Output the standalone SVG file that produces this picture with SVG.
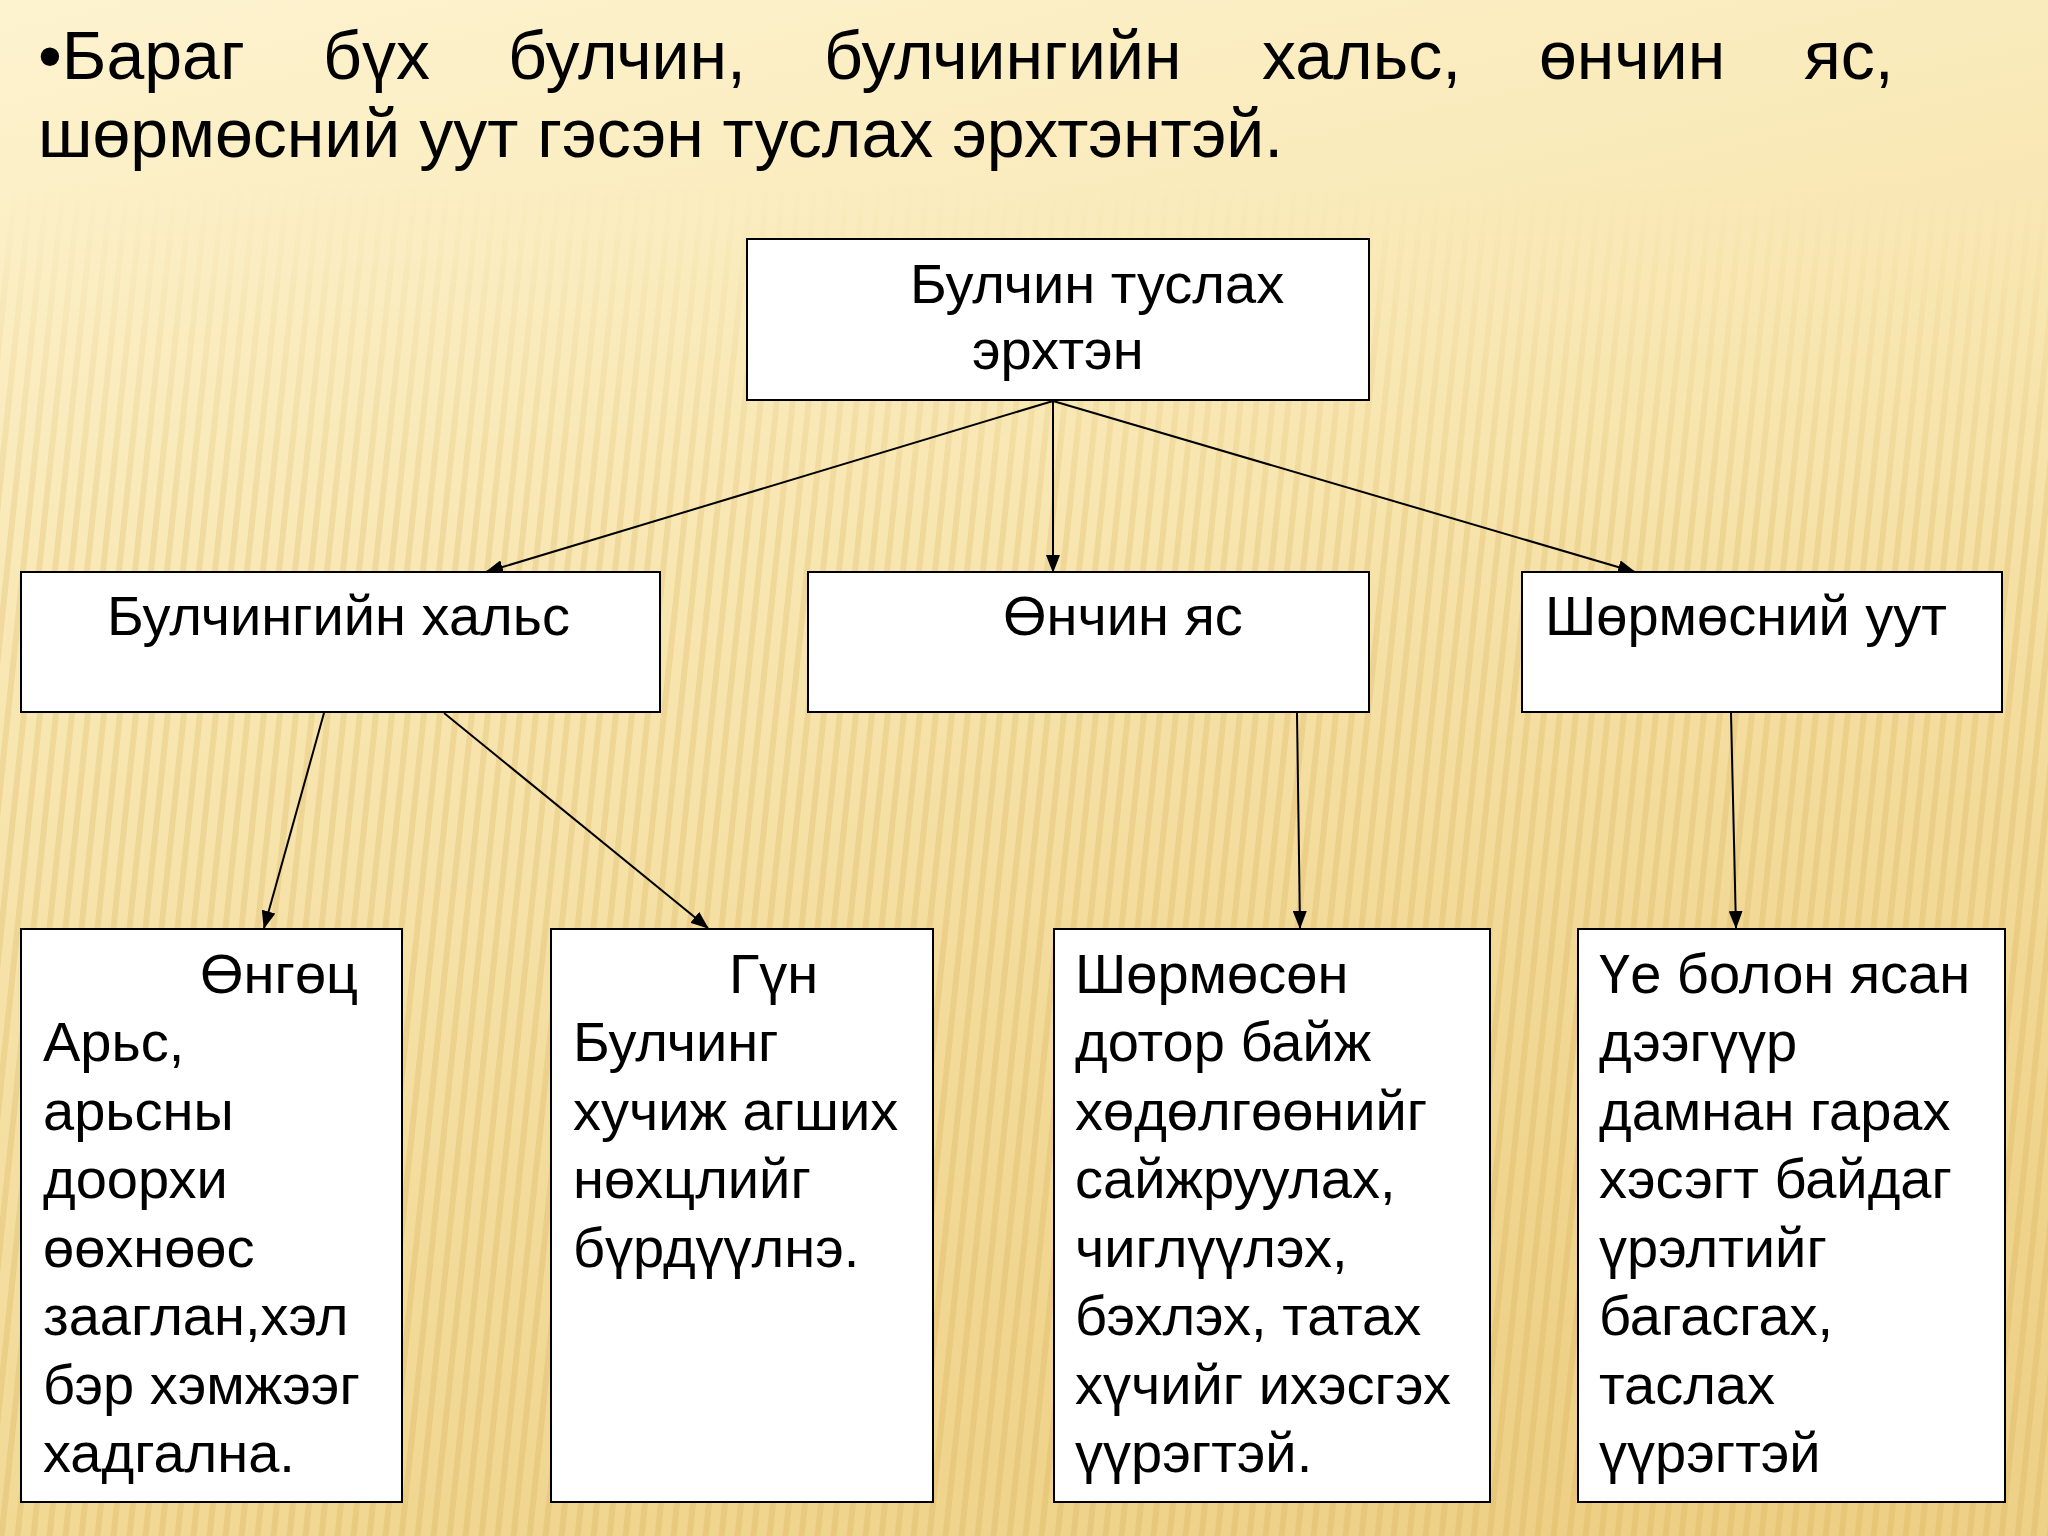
<svg xmlns="http://www.w3.org/2000/svg" width="2048" height="1536" viewBox="0 0 2048 1536">
<defs>
<style>
.t{font-family:"Liberation Sans",Arial,sans-serif;fill:#000;}
.title{font-size:68px;}
.b{font-size:56px;}
.box{fill:#fff;stroke:#000;stroke-width:2;}
.c{stroke:#000;stroke-width:2;fill:none;marker-end:url(#ah);}
</style>
<marker id="ah" markerUnits="userSpaceOnUse" markerWidth="18" markerHeight="14" refX="17" refY="7" orient="auto">
<path d="M0,0 L18,7 L0,14 Z" fill="#000"/>
</marker>
<linearGradient id="bg" x1="0" y1="0" x2="0.3" y2="1">
<stop offset="0" stop-color="#fdf3cf"/>
<stop offset="0.45" stop-color="#f8e6b0"/>
<stop offset="1" stop-color="#f0d690"/>
</linearGradient>
<radialGradient id="glow" cx="0.85" cy="1.05" r="0.75">
<stop offset="0" stop-color="#e9c878" stop-opacity="0.55"/>
<stop offset="0.6" stop-color="#efd28a" stop-opacity="0.35"/>
<stop offset="1" stop-color="#efd28a" stop-opacity="0"/>
</radialGradient>
<pattern id="stripes" width="16" height="64" patternUnits="userSpaceOnUse" patternTransform="skewX(-6)">
<rect x="0" y="0" width="6" height="64" fill="#d4aa50"/>
</pattern>
<linearGradient id="fadeG" x1="0" y1="0" x2="0" y2="1">
<stop offset="0" stop-color="#000"/>
<stop offset="0.12" stop-color="#000"/>
<stop offset="0.35" stop-color="#fff" stop-opacity="0.9"/>
<stop offset="1" stop-color="#fff"/>
</linearGradient>
<mask id="fade">
<rect width="2048" height="1536" fill="url(#fadeG)"/>
</mask>
</defs>
<g id="background">
<rect width="2048" height="1536" fill="url(#bg)"/>
<rect width="2048" height="1536" fill="url(#glow)"/>
<rect width="2048" height="1536" fill="url(#stripes)" opacity="0.26" mask="url(#fade)"/>
</g>
<g id="title" class="t title">
<text x="38" y="79">•Бараг</text>
<text x="323" y="79">бүх</text>
<text x="508" y="79">булчин,</text>
<text x="824" y="79">булчингийн</text>
<text x="1262" y="79">хальс,</text>
<text x="1539" y="79">өнчин</text>
<text x="1804" y="79">яс,</text>
<text x="38" y="157">шөрмөсний уут гэсэн туслах эрхтэнтэй.</text>
</g>
<g id="connectors">
<line class="c" x1="1053" y1="401" x2="486" y2="572"/>
<line class="c" x1="1053" y1="401" x2="1053" y2="572"/>
<line class="c" x1="1053" y1="401" x2="1635" y2="572"/>
<line class="c" x1="324" y1="713" x2="264" y2="928"/>
<line class="c" x1="444" y1="713" x2="708" y2="928"/>
<line class="c" x1="1297" y1="713" x2="1300" y2="928"/>
<line class="c" x1="1731" y1="713" x2="1736" y2="928"/>
</g>
<g id="root">
<rect class="box" x="747" y="239" width="622" height="161"/>
<text class="t b" x="910" y="303">Булчин туслах</text>
<text class="t b" x="972" y="369">эрхтэн</text>
</g>
<g id="fascia">
<rect class="box" x="21" y="572" width="639" height="140"/>
<text class="t b" x="107" y="635">Булчингийн хальс</text>
</g>
<g id="sesamoid">
<rect class="box" x="808" y="572" width="561" height="140"/>
<text class="t b" x="1003" y="635">Өнчин яс</text>
</g>
<g id="bursa">
<rect class="box" x="1522" y="572" width="480" height="140"/>
<text class="t b" x="1545" y="635">Шөрмөсний уут</text>
</g>
<g id="superficial">
<rect class="box" x="21" y="929" width="381" height="573"/>
<text class="t b" x="200" y="993">Өнгөц</text>
<text class="t b" x="43" y="1061">Арьс,</text>
<text class="t b" x="43" y="1130">арьсны</text>
<text class="t b" x="43" y="1198">доорхи</text>
<text class="t b" x="43" y="1267">өөхнөөс</text>
<text class="t b" x="43" y="1335">зааглан,хэл</text>
<text class="t b" x="43" y="1404">бэр хэмжээг</text>
<text class="t b" x="43" y="1472">хадгална.</text>
</g>
<g id="deep">
<rect class="box" x="551" y="929" width="382" height="573"/>
<text class="t b" x="729" y="993">Гүн</text>
<text class="t b" x="573" y="1061">Булчинг</text>
<text class="t b" x="573" y="1130">хучиж агших</text>
<text class="t b" x="573" y="1198">нөхцлийг</text>
<text class="t b" x="573" y="1267">бүрдүүлнэ.</text>
</g>
<g id="sesamoid-desc">
<rect class="box" x="1054" y="929" width="436" height="573"/>
<text class="t b" x="1075" y="993">Шөрмөсөн</text>
<text class="t b" x="1075" y="1061">дотор байж</text>
<text class="t b" x="1075" y="1130">хөдөлгөөнийг</text>
<text class="t b" x="1075" y="1198">сайжруулах,</text>
<text class="t b" x="1075" y="1267">чиглүүлэх,</text>
<text class="t b" x="1075" y="1335">бэхлэх, татах</text>
<text class="t b" x="1075" y="1404">хүчийг ихэсгэх</text>
<text class="t b" x="1075" y="1472">үүрэгтэй.</text>
</g>
<g id="bursa-desc">
<rect class="box" x="1578" y="929" width="427" height="573"/>
<text class="t b" x="1599" y="993">Үе болон ясан</text>
<text class="t b" x="1599" y="1061">дээгүүр</text>
<text class="t b" x="1599" y="1130">дамнан гарах</text>
<text class="t b" x="1599" y="1198">хэсэгт байдаг</text>
<text class="t b" x="1599" y="1267">үрэлтийг</text>
<text class="t b" x="1599" y="1335">багасгах,</text>
<text class="t b" x="1599" y="1404">таслах</text>
<text class="t b" x="1599" y="1472">үүрэгтэй</text>
</g>
</svg>
